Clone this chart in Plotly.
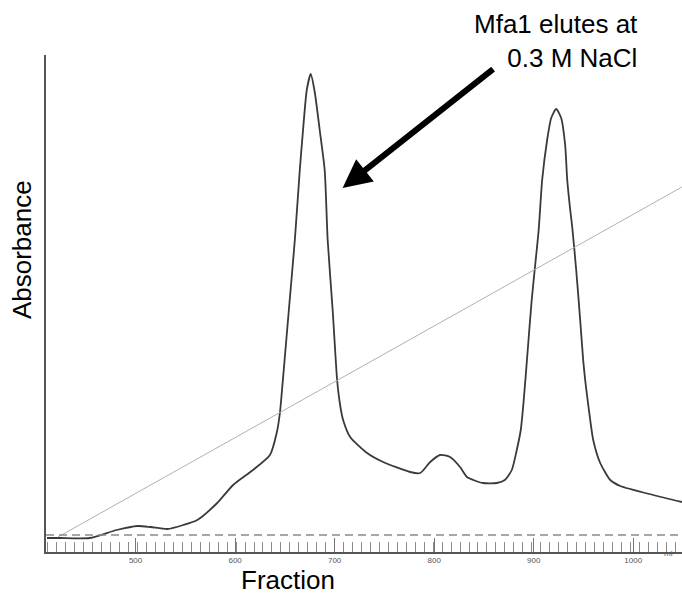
import plotly.graph_objects as go

# Elution volume (ml) and UV absorbance (mAU) of the anion-exchange run
volume_ml = [411, 424, 454, 481, 502, 515, 532, 548, 562, 582, 598, 618, 635, 642, 645,
             648, 654, 660, 665, 668, 672, 676, 680, 685, 690, 693, 698, 702.5, 705.5, 708.5,
             715.6, 732.6, 748.7, 775.9, 786, 796, 806, 816, 826, 833, 849, 863, 871, 878, 883,
             887, 890, 894, 898, 902, 905, 908.5, 913.5, 917.6, 922.6, 927.6, 931.6, 933.7,
             936.7, 938.7, 942.7, 946.7, 949.7, 951.7, 953.8, 956.8, 959.8, 966.8, 976.9,
             987, 1020, 1049]
absorbance_mau = [-6, -6, -6, 10, 18, 16, 12, 20, 30, 64, 100, 130, 160, 206, 244,
                  310, 450, 590, 730, 804, 890, 922, 886, 810, 730, 590, 450, 310, 260, 230,
                  196, 164, 146, 126, 124, 146, 160, 156, 136, 116, 104, 104, 110, 130, 170,
                  210, 270, 370, 470, 550, 610, 710, 790, 834, 852, 834, 780, 710,
                  650, 616, 530, 430, 350, 310, 276, 230, 190, 144, 110,
                  98, 80, 66]

# Linear NaCl gradient (mM)
gradient_ml = [422, 1049]
gradient_mm = [0, 740]

# Volume axis labels
tick_ml = [500, 600, 700, 800, 900, 1000]
tick_text = ["500", "600", "700", "800", "900", "1000"]

FONT = "Liberation Sans, Arial, sans-serif"

fig = go.Figure()

fig.add_trace(go.Scatter(
    x=gradient_ml, y=gradient_mm, yaxis="y2", mode="lines",
    line=dict(color="#b0b0b0", width=1), hoverinfo="skip", showlegend=False))

fig.add_trace(go.Scatter(
    x=volume_ml, y=absorbance_mau, mode="lines",
    line=dict(color="#3a3a3a", width=1.8, shape="spline", smoothing=0.6),
    showlegend=False))

# baseline (0 mAU) dashed reference line
fig.add_shape(type="line", xref="paper", x0=0, x1=1, yref="y", y0=0, y1=0,
              line=dict(color="#8a8a8a", width=1.3, dash="8px,5px"))

# arrow pointing at the first peak, with its label
peak_ml = volume_ml[absorbance_mau.index(max(absorbance_mau))]
fig.add_annotation(x=peak_ml + 32, y=694, xref="x", yref="y", text="",
                   showarrow=True, arrowhead=2, arrowsize=0.95, arrowwidth=6,
                   arrowcolor="black", ax=152, ay=-120, standoff=0)
fig.add_annotation(x=0.934, y=1.0, xref="paper", yref="paper", yshift=48,
                   text="Mfa1 elutes at<br>0.3 M NaCl", showarrow=False,
                   xanchor="right", yanchor="top", align="right",
                   font=dict(family=FONT, size=26, color="black"))

# axis titles
fig.add_annotation(x=-0.0377, y=0.6076, xref="paper", yref="paper", text="Absorbance",
                   showarrow=False, textangle=-90, xanchor="center", yanchor="middle",
                   font=dict(family=FONT, size=26, color="black"))
fig.add_annotation(x=0.381, y=-0.057, xref="paper", yref="paper", text="Fraction",
                   showarrow=False, yanchor="middle",
                   font=dict(family=FONT, size=26, color="black"))
fig.add_annotation(x=1035, y=0, xref="x", yref="paper", yshift=-8, text="ml",
                   showarrow=False, font=dict(family=FONT, size=8, color="#555"))

fig.update_layout(
    width=682, height=599,
    margin=dict(l=46, r=0, t=55, b=47),
    plot_bgcolor="white", paper_bgcolor="white",
    xaxis=dict(range=[410, 1049], showgrid=False, zeroline=False,
               showline=True, linecolor="#555", linewidth=1.5,
               tickvals=tick_ml, ticktext=tick_text, ticks="inside",
               ticklen=14, tickcolor="#777", tickwidth=1,
               tickfont=dict(family=FONT, size=8, color="#555"),
               minor=dict(ticks="inside", ticklen=10, dtick=9, tick0=412,
                          tickcolor="#8a8a8a", tickwidth=1)),
    yaxis=dict(range=[-34, 960], showgrid=False, zeroline=False,
               showline=True, linecolor="#555", linewidth=1.5,
               showticklabels=False, ticks=""),
    yaxis2=dict(range=[-31.7, 1019], overlaying="y", visible=False),
)

fig.write_html("out.html")
